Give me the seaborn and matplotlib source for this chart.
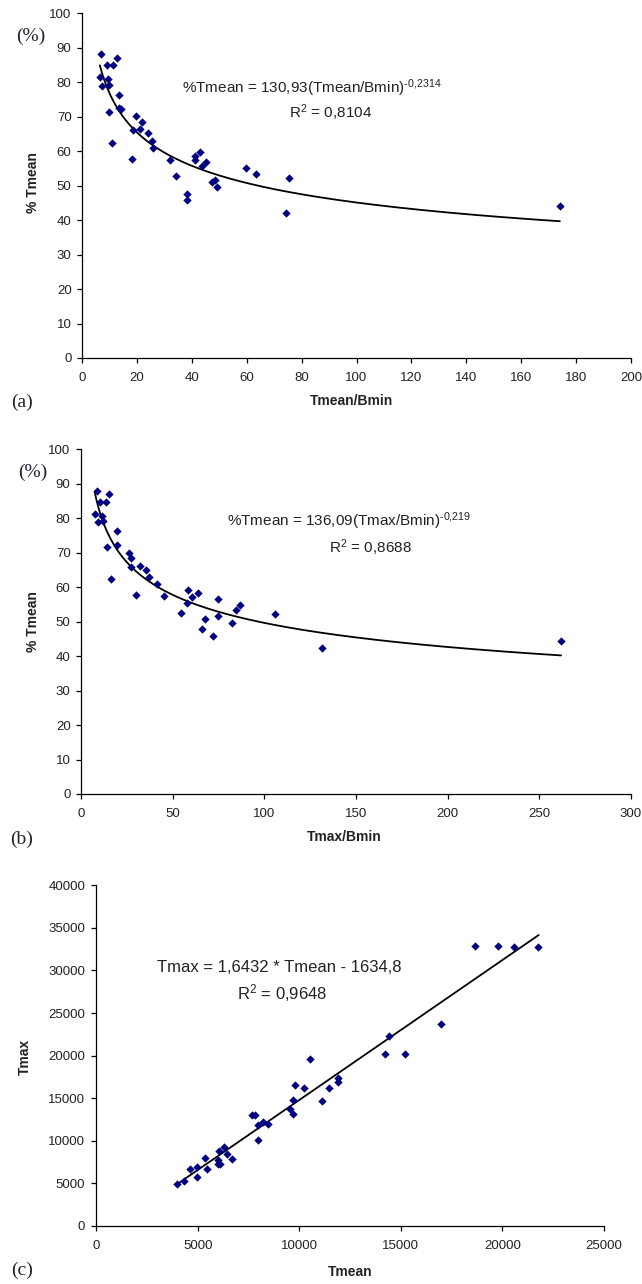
import numpy as np
import matplotlib
matplotlib.use("Agg")
import matplotlib.pyplot as plt
import seaborn as sns

# ---------------- data ----------------
# (a) %Tmean vs Tmean/Bmin
a_x = [6.9, 6.5, 7.3, 9.0, 9.3, 9.8, 9.7, 11.2, 12.8, 10.9, 13.6, 13.3, 14.3, 18.4, 18.3,
       19.6, 21.1, 21.9, 23.9, 25.5, 25.9, 32.0, 34.2, 38.3, 38.1, 41.1, 41.1, 43.0, 43.6,
       45.0, 47.2, 48.4, 49.1, 59.6, 63.4, 75.3, 74.4, 174.1]
a_y = [88.2, 81.4, 79.0, 85.0, 81.0, 79.2, 71.5, 85.0, 87.0, 62.5, 76.2, 72.4, 72.1, 66.0, 57.7,
       70.2, 66.4, 68.4, 65.3, 62.9, 60.8, 57.5, 52.7, 47.6, 45.8, 58.5, 57.5, 59.7, 55.8,
       56.9, 51.1, 51.7, 49.5, 55.0, 53.4, 52.2, 42.1, 44.1]
a_coef, a_exp = 130.93, -0.2314

# (b) %Tmean vs Tmax/Bmin
b_x = [8.9, 7.5, 9.5, 10.2, 11.7, 12.2, 13.8, 15.1, 14.4, 16.2, 19.7, 19.9, 26.2, 27.3, 27.0,
       32.1, 30.1, 35.5, 37.2, 41.2, 45.2, 54.5, 57.7, 58.3, 60.7, 63.6, 65.9, 67.8, 71.8,
       74.7, 74.7, 82.5, 84.7, 86.7, 105.8, 131.3, 261.9]
b_y = [88.0, 81.3, 78.9, 84.7, 80.7, 79.3, 84.8, 86.9, 71.6, 62.5, 76.2, 72.1, 70.0, 68.4, 65.9,
       66.2, 57.8, 65.1, 62.9, 60.9, 57.4, 52.6, 55.5, 59.3, 57.2, 58.4, 47.8, 50.9, 45.8,
       56.7, 51.6, 49.6, 53.3, 54.9, 52.3, 42.3, 44.3]
b_coef, b_exp = 136.09, -0.219

# (c) Tmax vs Tmean
c_x = [3956, 4333, 4628, 4972, 4939, 5365, 5463, 6004, 6053, 6004, 6118, 6283, 6431, 6709,
       7676, 7840, 7987, 7987, 8217, 8479, 9528, 9708, 9708, 9806, 10232, 10511,
       11101, 11478, 11921, 11921, 14232, 14412, 15199, 16969, 18625, 19805, 20592, 21755]
c_y = [4932, 5323, 6732, 6888, 5714, 7945, 6732, 7750, 8806, 7241, 7241, 9315, 8415, 7906,
       13033, 13033, 11898, 10098, 12172, 11976, 13777, 14834, 13151, 16517, 16243, 19609,
       14716, 16243, 17339, 16869, 20235, 22309, 20235, 23718, 32838, 32838, 32759, 32759]
c_slope, c_intercept = 1.6432, -1634.8

a_xticks = [0, 20, 40, 60, 80, 100, 120, 140, 160, 180, 200]
ab_yticks = [0, 10, 20, 30, 40, 50, 60, 70, 80, 90, 100]
b_xticks = [0, 50, 100, 150, 200, 250, 300]
c_xticks = [0, 5000, 10000, 15000, 20000, 25000]
c_yticks = [0, 5000, 10000, 15000, 20000, 25000, 30000, 35000, 40000]

eq_a = "%Tmean = 130,93(Tmean/Bmin)$^{\\mathrm{\u2010}\\mathrm{0{,}2314}}$"
r2_a = r"R$^{\mathrm{2}}$ = 0,8104"
eq_b = "%Tmean = 136,09(Tmax/Bmin)$^{\\mathrm{\u2010}\\mathrm{0{,}219}}$"
r2_b = r"R$^{\mathrm{2}}$ = 0,8688"
eq_c = "Tmax = 1,6432 * Tmean - 1634,8"
r2_c = r"R$^{\mathrm{2}}$ = 0,9648"

# ---------------- style ----------------
sns.set_theme(style="ticks")
plt.rcParams["font.family"] = ["Liberation Sans", "DejaVu Sans"]
plt.rcParams["mathtext.fontset"] = "custom"
plt.rcParams["mathtext.rm"] = "Liberation Sans"
plt.rcParams["mathtext.it"] = "Liberation Sans:italic"
plt.rcParams["mathtext.bf"] = "Liberation Sans:bold"
plt.rcParams["mathtext.fallback"] = "cm"

W, H = 642, 1284
fig = plt.figure(figsize=(W / 100, H / 100), dpi=100)
fig.patch.set_facecolor("white")

def box(l, t, r, b):
    return [l / W, 1 - b / H, (r - l) / W, (b - t) / H]

def fx(px):
    return px / W

def fy(py):
    return 1 - py / H

MARK = "#000080"
TXT = "#222222"

def style_axis(ax, xticks, yticks, xpad=6.5, ypad=4.0):
    ax.set_facecolor("white")
    sns.despine(ax=ax)
    for s in ("left", "bottom"):
        ax.spines[s].set_color("black")
        ax.spines[s].set_linewidth(0.9)
    ax.set_xlim(xticks[0], xticks[-1])
    ax.set_ylim(yticks[0], yticks[-1])
    ax.set_xticks(xticks)
    ax.set_yticks(yticks)
    ax.tick_params(axis="both", direction="out", length=3.5, width=0.9,
                   color="black", labelsize=9.5, labelcolor=TXT)
    ax.tick_params(axis="x", pad=xpad)
    ax.tick_params(axis="y", pad=ypad)
    ax.set_xlabel("")
    ax.set_ylabel("")
    ax.grid(False)

# ---------------- panel (a) ----------------
ax_a = fig.add_axes(box(82, 13.3, 631, 358))
sns.scatterplot(x=a_x, y=a_y, marker="D", color=MARK, s=18, linewidth=0, ax=ax_a, zorder=3)
xs = np.linspace(min(a_x), max(a_x), 300)
ax_a.plot(xs, a_coef * xs ** a_exp, color="black", lw=1.3, zorder=2)
style_axis(ax_a, a_xticks, ab_yticks)

# ---------------- panel (b) ----------------
ax_b = fig.add_axes(box(81, 449.3, 631, 794))
sns.scatterplot(x=b_x, y=b_y, marker="D", color=MARK, s=18, linewidth=0, ax=ax_b, zorder=3)
xs = np.linspace(min(b_x), max(b_x), 300)
ax_b.plot(xs, b_coef * xs ** b_exp, color="black", lw=1.3, zorder=2)
style_axis(ax_b, b_xticks, ab_yticks)

# ---------------- panel (c) ----------------
ax_c = fig.add_axes(box(96.2, 885.3, 604, 1226))
sns.scatterplot(x=c_x, y=c_y, marker="D", color=MARK, s=18, linewidth=0, ax=ax_c, zorder=3)
xs = np.linspace(min(c_x), max(c_x) + 30, 50)
ax_c.plot(xs, c_slope * xs + c_intercept, color="black", lw=1.3, zorder=2)
style_axis(ax_c, c_xticks, c_yticks, xpad=6.5, ypad=4.5)

# ---------------- texts ----------------
serif = ["Liberation Serif", "DejaVu Serif"]
EQ = 11
EQC = 12
# (a)
fig.text(fx(31), fy(36), "(%)", family=serif, fontsize=14, color="#1f1f3a", ha="center", va="center")
fig.text(fx(33), fy(183), "% Tmean", fontsize=10, fontweight="bold", rotation=90,
         ha="center", va="center", color=TXT)
fig.text(fx(352), fy(401), "Tmean/Bmin", fontsize=10, fontweight="bold", ha="center", va="center", color=TXT)
fig.text(fx(22), fy(402), "(a)", family=serif, fontsize=14, ha="center", va="center", color=TXT)
fig.text(fx(182), fy(88), eq_a, fontsize=EQ, ha="left", va="center", color=TXT)
fig.text(fx(331), fy(113), r2_a, fontsize=EQ, ha="center", va="center", color=TXT)

# (b)
fig.text(fx(33), fy(472), "(%)", family=serif, fontsize=14, color="#1f1f3a", ha="center", va="center")
fig.text(fx(33), fy(622), "% Tmean", fontsize=10, fontweight="bold", rotation=90,
         ha="center", va="center", color=TXT)
fig.text(fx(344), fy(837), "Tmax/Bmin", fontsize=10, fontweight="bold", ha="center", va="center", color=TXT)
fig.text(fx(22), fy(839), "(b)", family=serif, fontsize=14, ha="center", va="center", color=TXT)
fig.text(fx(227), fy(521), eq_b, fontsize=EQ, ha="left", va="center", color=TXT)
fig.text(fx(370), fy(548), r2_b, fontsize=EQ, ha="center", va="center", color=TXT)

# (c)
fig.text(fx(25), fy(1057), "Tmax", fontsize=10, fontweight="bold", rotation=90,
         ha="center", va="center", color=TXT)
fig.text(fx(350), fy(1272), "Tmean", fontsize=10, fontweight="bold", ha="center", va="center", color=TXT)
fig.text(fx(22), fy(1270), "(c)", family=serif, fontsize=14, ha="center", va="center", color=TXT)
fig.text(fx(157), fy(967), eq_c, fontsize=EQC, ha="left", va="center", color=TXT)
fig.text(fx(282), fy(993), r2_c, fontsize=EQC, ha="center", va="center", color=TXT)

fig.savefig("out.png", dpi=100, facecolor="white")
